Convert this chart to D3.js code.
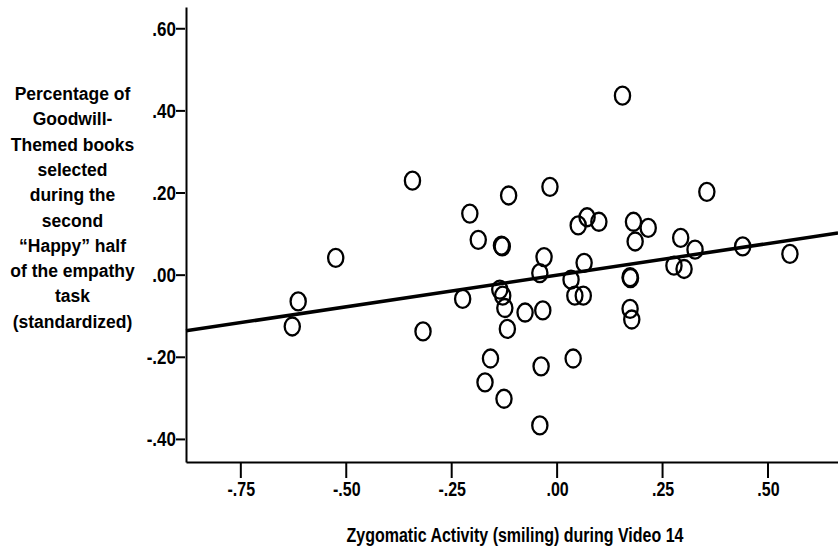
<!DOCTYPE html>
<html>
<head>
<meta charset="utf-8">
<script src="https://cdn.jsdelivr.net/npm/d3@7"></script>
<style>
  body { margin: 0; background: #fff; }
  svg { display: block; }
  text { font-family: "Liberation Sans", Arial, sans-serif; font-weight: bold; }
</style>
</head>
<body>
<svg id="chart"></svg>
<script>
// zygomatic activity (x) vs. standardized goodwill-book share (y)
const zygomatic = [-0.343, -0.525, -0.614, -0.628, -0.318, -0.224, 0.155, -0.207, -0.115, -0.017,
    -0.187, -0.132, -0.130, 0.050, 0.071, 0.099, 0.181, 0.216, 0.185, 0.355,
    0.293, 0.327, 0.440, 0.552, -0.031, 0.064, -0.041, 0.277, 0.301, 0.173,
    0.174, 0.033, 0.042, 0.062, 0.173, 0.177, -0.136, -0.129, -0.124, -0.118,
    -0.076, -0.034, -0.158, -0.171, -0.126, -0.038, 0.038, -0.041];
const goodwill = [0.230, 0.042, -0.064, -0.125, -0.137, -0.058, 0.437, 0.150, 0.194, 0.215,
    0.086, 0.072, 0.070, 0.121, 0.141, 0.130, 0.130, 0.115, 0.082, 0.203,
    0.091, 0.062, 0.070, 0.052, 0.044, 0.030, 0.005, 0.023, 0.015, -0.005,
    -0.007, -0.011, -0.050, -0.050, -0.082, -0.108, -0.035, -0.050, -0.080, -0.131,
    -0.091, -0.086, -0.203, -0.261, -0.301, -0.222, -0.203, -0.366];
// fitted line: y = a + b*x
const fitLine = [0.0, 0.154];
const xTicks = [-0.75, -0.5, -0.25, 0, 0.25, 0.5];
const yTicks = [-0.4, -0.2, 0, 0.2, 0.4, 0.6];
const yTitle = ["Percentage of", "Goodwill-", "Themed books", "selected", "during the",
    "second", "\u201CHappy\u201D half", "of the empathy", "task", "(standardized)"];
const xTitle = "Zygomatic Activity (smiling) during Video 14";

const width = 838, height = 547;
const plot = { left: 186, right: 838, top: 7, bottom: 462 };

const svg = d3.select("#chart").attr("width", width).attr("height", height);

const x = d3.scaleLinear().domain([-0.880, 0.666]).range([plot.left, plot.right]);
const y = d3.scaleLinear().domain([-0.455, 0.653]).range([plot.bottom, plot.top]);

// SPSS style labels: -.25, .00, .50
const fmt = v => (v < 0 ? "-" : "") + Math.abs(v).toFixed(2).replace(/^0/, "");

// squeeze text horizontally, the source uses a narrow face
function narrow(sel, k) {
    sel.each(function () {
        const w = this.getComputedTextLength();
        d3.select(this).attr("textLength", w * k).attr("lengthAdjust", "spacingAndGlyphs");
    });
}

// axes (tick marks drawn separately below)
const xAxis = d3.axisBottom(x).tickValues(xTicks).tickSize(0).tickPadding(20).tickFormat(fmt);
const gx = svg.append("g").attr("transform", "translate(0," + plot.bottom + ")").call(xAxis);
gx.select(".domain").attr("stroke", "#000").attr("stroke-width", 2);
gx.selectAll(".tick text").attr("font-size", 20).attr("fill", "#000").call(narrow, 0.8);
gx.selectAll(".tick-mark").data(xTicks).enter().append("path")
    .attr("class", "tick-mark")
    .attr("d", d => "M" + x(d) + ",1v15")
    .attr("stroke", "#000")
    .attr("stroke-width", 2);

const yAxis = d3.axisLeft(y).tickValues(yTicks).tickSize(0).tickPadding(10).tickFormat(fmt);
const gy = svg.append("g").attr("transform", "translate(" + plot.left + ",0)").call(yAxis);
gy.select(".domain").attr("stroke", "#000").attr("stroke-width", 2);
gy.selectAll(".tick text").attr("font-size", 20).attr("fill", "#000").call(narrow, 0.85);
gy.selectAll(".tick-mark").data(yTicks).enter().append("path")
    .attr("class", "tick-mark")
    .attr("d", d => "M-1," + y(d) + "h-9")
    .attr("stroke", "#000")
    .attr("stroke-width", 2);

// points
const pts = zygomatic.map((d, i) => [d, goodwill[i]]);
svg.append("g").selectAll("ellipse").data(pts).enter().append("ellipse")
    .attr("cx", d => x(d[0]))
    .attr("cy", d => y(d[1]))
    .attr("rx", 7.6)
    .attr("ry", 9)
    .attr("fill", "none")
    .attr("stroke", "#000")
    .attr("stroke-width", 2.3);

// fit line
const x0 = x.domain()[0], x1 = x.domain()[1];
svg.append("line")
    .attr("x1", x(x0)).attr("y1", y(fitLine[0] + fitLine[1] * x0))
    .attr("x2", x(x1)).attr("y2", y(fitLine[0] + fitLine[1] * x1))
    .attr("stroke", "#000")
    .attr("stroke-width", 3.5);

// titles
svg.append("text")
    .attr("x", 515).attr("y", 542)
    .attr("text-anchor", "middle")
    .attr("font-size", 20)
    .text(xTitle)
    .call(narrow, 0.8);

svg.append("g").selectAll("text").data(yTitle).enter().append("text")
    .attr("x", 72.5)
    .attr("y", (d, i) => 100 + i * 25.3)
    .attr("text-anchor", "middle")
    .attr("font-size", 17.5)
    .text(d => d);
</script>
</body>
</html>
